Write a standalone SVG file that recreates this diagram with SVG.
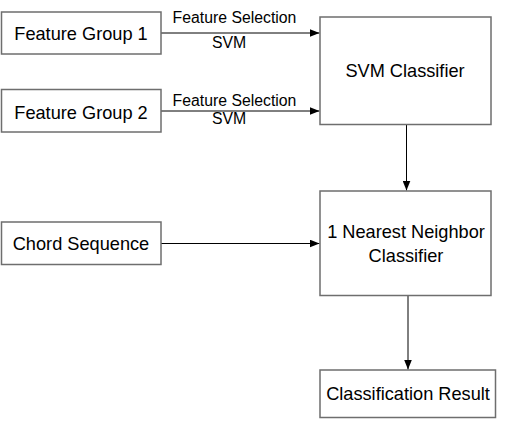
<svg xmlns="http://www.w3.org/2000/svg" width="521" height="425" viewBox="0 0 521 425">
<style>
.box{fill:#fff;stroke:#6e6e6e;stroke-width:1.5}
.t{font-family:"Liberation Sans",Arial,sans-serif;font-size:18.2px;fill:#000;text-anchor:middle}
.s{font-family:"Liberation Sans",Arial,sans-serif;font-size:15.8px;fill:#000;text-anchor:middle}
.c{stroke:#000;stroke-width:1;fill:none;marker-end:url(#ah)}
</style>
<defs>
<marker id="ah" markerWidth="10" markerHeight="8" refX="10" refY="4" orient="auto" markerUnits="userSpaceOnUse">
<path d="M0,0 L10,4 L0,8 Z" fill="#000"/>
</marker>
</defs>
<rect width="521" height="425" fill="#fff"/>
<g id="connectors">
<path class="c" d="M161,33 H319.5"/>
<path class="c" d="M161,111 H319.5"/>
<path class="c" d="M161,243.5 H319.5"/>
<path class="c" d="M406.5,125 V190.5"/>
<path class="c" d="M408,296 V369.5"/>
<text class="s" x="234.5" y="22.5">Feature Selection</text>
<text class="s" x="229" y="47.5">SVM</text>
<text class="s" x="234.5" y="106">Feature Selection</text>
<text class="s" x="229" y="124">SVM</text>
</g>
<g id="fg1">
<rect class="box" x="1.5" y="12" width="159.5" height="42"/>
<text class="t" x="81" y="39.5">Feature Group 1</text>
</g>
<g id="fg2">
<rect class="box" x="1.5" y="89.5" width="159.5" height="42.5"/>
<text class="t" x="81" y="118.5">Feature Group 2</text>
</g>
<g id="chord">
<rect class="box" x="1.5" y="222" width="159.5" height="42.5"/>
<text class="t" x="81" y="250">Chord Sequence</text>
</g>
<g id="svm">
<rect class="box" x="320" y="17" width="171" height="107.5"/>
<text class="t" x="405" y="77">SVM Classifier</text>
</g>
<g id="nn">
<rect class="box" x="320" y="191" width="171" height="104.5"/>
<text class="t" x="406" y="237.5">1 Nearest Neighbor</text>
<text class="t" x="406" y="261.5">Classifier</text>
</g>
<g id="result">
<rect class="box" x="320" y="370" width="175.5" height="47.5"/>
<text class="t" x="408" y="400">Classification Result</text>
</g>
</svg>
